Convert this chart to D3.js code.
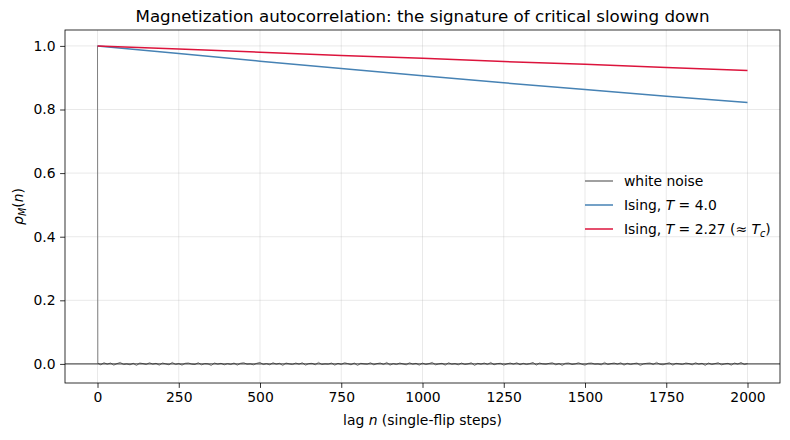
<!DOCTYPE html>
<html><head><meta charset="utf-8">
<script src="https://cdn.jsdelivr.net/npm/d3@7"></script>
<style>body{margin:0;background:#fff}svg{font-family:"DejaVu Sans",sans-serif}</style>
</head><body>
<script>
// ---- data ----
const xTicks = [0, 250, 500, 750, 1000, 1250, 1500, 1750, 2000];
const yTicks = [0.0, 0.2, 0.4, 0.6, 0.8, 1.0];
const curveLags = [0, 250, 500, 750, 1000, 1250, 1500, 1750, 2000];
const isingT4 = [1.000, 0.976, 0.952, 0.929, 0.906, 0.884, 0.863, 0.842, 0.822];
const isingTc = [1.000, 0.990, 0.980, 0.970, 0.961, 0.951, 0.942, 0.932, 0.923];
const noiseStart = [1.0];            // rho at lag 0
const noiseStep = 10;                // spacing of sampled lags after lag 1
const noiseValues = [
 0.002,-0.003,0.004,-0.001,0.003,-0.004,0.001,0.005,-0.002,0.000,
 -0.003,0.002,-0.005,0.003,0.001,-0.002,0.004,-0.001,0.002,-0.004,
 0.003,0.000,-0.003,0.005,-0.002,0.001,-0.004,0.002,0.003,-0.001,
 -0.002,0.004,-0.003,0.001,0.000,-0.005,0.003,-0.001,0.002,-0.003,
 0.001,-0.002,0.003,-0.004,0.002,0.004,-0.001,0.000,-0.003,0.002,
 0.005,-0.002,0.001,-0.003,0.004,-0.001,0.002,-0.005,0.003,0.000,
 -0.002,0.003,-0.001,0.004,-0.004,0.001,0.002,-0.003,0.005,-0.002,
 0.000,-0.001,0.003,-0.004,0.002,-0.002,0.004,0.001,-0.003,0.003,
 -0.005,0.002,0.000,-0.001,0.004,-0.003,0.001,0.003,-0.002,0.005,
 -0.004,0.001,-0.002,0.003,0.000,-0.003,0.004,-0.001,0.002,-0.004,
 0.003,-0.002,0.001,0.005,-0.003,0.000,0.002,-0.004,0.004,-0.001,
 0.001,-0.003,0.003,-0.002,0.000,0.004,-0.005,0.002,-0.001,0.003,
 -0.002,0.005,-0.003,0.001,0.002,-0.004,0.000,0.003,-0.001,0.004,
 -0.003,0.002,-0.002,0.001,0.005,-0.004,0.003,0.000,-0.001,0.002,
 0.004,-0.003,0.001,-0.005,0.002,0.003,-0.002,0.000,0.004,-0.001,
 -0.004,0.002,0.003,-0.001,0.000,-0.003,0.005,-0.002,0.001,0.003,
 -0.001,0.004,-0.004,0.002,-0.002,0.001,0.003,-0.005,0.000,0.002,
 0.003,-0.002,0.005,-0.001,-0.003,0.001,0.004,-0.004,0.002,0.000,
 -0.002,0.003,0.001,-0.003,0.004,-0.001,0.002,-0.005,0.003,-0.002,
 0.001,0.004,-0.003,0.000,0.002,-0.004,0.003,-0.001,0.005,-0.002,
 0.001
];
const colors = { noise: "#808080", t4: "#4682b4", tc: "#dc143c" };

// ---- layout ----
const W = 790, H = 440;
const m = { left: 65, right: 10, top: 30, bottom: 57 };
const iw = W - m.left - m.right, ih = H - m.top - m.bottom;

const svg = d3.select("body").append("svg").attr("width", W).attr("height", H);
const x = d3.scaleLinear().domain([-100, 2100]).range([m.left, m.left + iw]);
const y = d3.scaleLinear().domain([-0.06, 1.05]).range([m.top + ih, m.top]);

// grid
const g = svg.append("g");
g.selectAll(".gx").data(xTicks).enter().append("line")
  .attr("x1", d => x(d)).attr("x2", d => x(d)).attr("y1", m.top).attr("y2", m.top + ih)
  .attr("stroke", "#b0b0b0").attr("stroke-opacity", 0.35).attr("stroke-width", 0.8);
g.selectAll(".gy").data(yTicks).enter().append("line")
  .attr("y1", d => y(d)).attr("y2", d => y(d)).attr("x1", m.left).attr("x2", m.left + iw)
  .attr("stroke", "#b0b0b0").attr("stroke-opacity", 0.35).attr("stroke-width", 0.8);

// series
const noisePts = [[0, noiseStart[0]]].concat(noiseValues.map((v, i) => [i === 0 ? 1 : i * noiseStep, v]));
const line = d3.line().x(d => x(d[0])).y(d => y(d[1]));
svg.append("path").datum(noisePts).attr("d", line).attr("fill", "none")
  .attr("stroke", colors.noise).attr("stroke-width", 1.0);
svg.append("path").datum(curveLags.map((l, i) => [l, isingT4[i]])).attr("d", line).attr("fill", "none")
  .attr("stroke", colors.t4).attr("stroke-width", 1.5);
svg.append("path").datum(curveLags.map((l, i) => [l, isingTc[i]])).attr("d", line).attr("fill", "none")
  .attr("stroke", colors.tc).attr("stroke-width", 1.5);

// zero line
svg.append("line").attr("x1", m.left).attr("x2", m.left + iw).attr("y1", y(0)).attr("y2", y(0))
  .attr("stroke", "#000").attr("stroke-width", 0.8);

// axes
const xa = svg.append("g").attr("transform", `translate(0,${m.top + ih})`)
  .call(d3.axisBottom(x).tickValues(xTicks).tickSize(4.9).tickPadding(4.5).tickFormat(d3.format("d")));
const ya = svg.append("g").attr("transform", `translate(${m.left},0)`)
  .call(d3.axisLeft(y).tickValues(yTicks).tickSize(4.9).tickPadding(4.5).tickFormat(d3.format(".1f")));
[xa, ya].forEach(a => {
  a.selectAll("text").attr("font-size", 13.9).attr("font-family", "DejaVu Sans").attr("fill", "#000");
  a.selectAll("line").attr("stroke", "#000").attr("stroke-width", 0.8);
  a.select(".domain").remove();
});
svg.append("rect").attr("x", m.left).attr("y", m.top).attr("width", iw).attr("height", ih)
  .attr("fill", "none").attr("stroke", "#000").attr("stroke-width", 0.8);

// title
svg.append("text").attr("x", m.left + iw / 2).attr("y", 22).attr("text-anchor", "middle")
  .attr("font-size", 16.7).text("Magnetization autocorrelation: the signature of critical slowing down");

// x label
const xl = svg.append("text").attr("x", m.left + iw / 2).attr("y", 425).attr("text-anchor", "middle")
  .attr("font-size", 13.9);
xl.append("tspan").text("lag ");
xl.append("tspan").attr("font-style", "italic").text("n");
xl.append("tspan").text(" (single-flip steps)");

// y label
const yl = svg.append("text").attr("transform", `translate(23,${m.top + ih / 2}) rotate(-90)`)
  .attr("text-anchor", "middle").attr("font-size", 13.9);
yl.append("tspan").attr("font-style", "italic").text("ρ");
yl.append("tspan").attr("font-style", "italic").attr("font-size", 9.7).attr("dy", 3).text("M");
yl.append("tspan").attr("dy", -3).text("(");
yl.append("tspan").attr("font-style", "italic").text("n");
yl.append("tspan").text(")");

// legend
const lg = svg.append("g").attr("font-size", 13.9);
const rows = [
  { c: colors.noise, parts: [["white noise", null]] },
  { c: colors.t4, parts: [["Ising, ", null], ["T", "i"], [" = 4.0", null]] },
  { c: colors.tc, parts: [["Ising, ", null], ["T", "i"], [" = 2.27 (≈ ", null], ["T", "i"], ["c", "sub"], [")", "back"]] }
];
rows.forEach((r, i) => {
  const yy = 181 + i * 24;
  lg.append("line").attr("x1", 585).attr("x2", 613).attr("y1", yy).attr("y2", yy)
    .attr("stroke", r.c).attr("stroke-width", 1.5);
  const t = lg.append("text").attr("x", 624).attr("y", yy + 5);
  r.parts.forEach(p => {
    const s = t.append("tspan").text(p[0]);
    if (p[1] === "i") s.attr("font-style", "italic");
    if (p[1] === "sub") s.attr("font-style", "italic").attr("font-size", 9.7).attr("dy", 3);
    if (p[1] === "back") s.attr("dy", -3);
  });
});
</script>
</body></html>
